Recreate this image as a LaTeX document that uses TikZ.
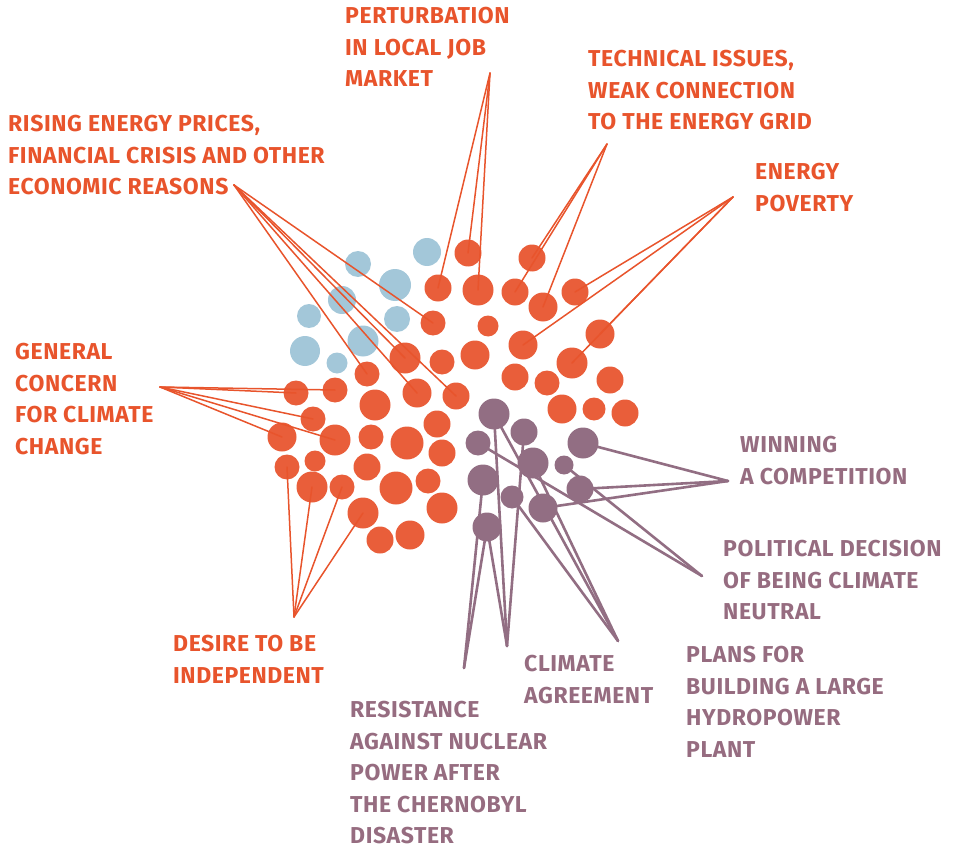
\documentclass[tikz,border=0pt]{standalone}
\usepackage{fontspec}
\setmainfont{Fira Sans}[LetterSpace=2.5]
\definecolor{otext}{RGB}{232,84,44}
\definecolor{ofill}{RGB}{233,94,58}
\definecolor{bfill}{RGB}{163,199,217}
\definecolor{pfill}{RGB}{146,110,131}
\definecolor{ptext}{RGB}{150,108,128}
\begin{document}
\begin{tikzpicture}[x=1pt,y=-1pt,
  lbl/.style={anchor=north west, inner sep=0pt, align=left, font=\bfseries\fontsize{23}{31.5}\selectfont},
  olbl/.style={lbl, text=otext},
  plbl/.style={lbl, text=ptext},
  odot/.style={circle, fill=ofill, draw=none, inner sep=0pt, minimum size=#1},
  bdot/.style={circle, fill=bfill, draw=none, inner sep=0pt, minimum size=#1},
  pdot/.style={circle, fill=pfill, draw=none, inner sep=0pt, minimum size=#1},
  oline/.style={draw=otext, line width=1.5pt, line cap=round},
  pline/.style={draw=pfill, line width=2.6pt, line cap=round}]
\useasboundingbox (0,0) rectangle (953,853);
% blue dots
\node[bdot=28pt] (b1) at (427,252) {};
\node[bdot=26pt] (b2) at (358,264) {};
\node[bdot=32pt] (b3) at (395,285) {};
\node[bdot=28pt] (b4) at (342,300) {};
\node[bdot=24pt] (b5) at (309,316) {};
\node[bdot=26pt] (b6) at (397,319) {};
\node[bdot=31pt] (b7) at (363,341) {};
\node[bdot=30pt] (b8) at (305,351) {};
\node[bdot=21pt] (b9) at (337,363) {};
% orange dots
\node[odot=27pt] (o1) at (468,253) {};
\node[odot=27pt] (o2) at (532,258) {};
\node[odot=27pt] (o3) at (438,288) {};
\node[odot=31pt] (o4) at (478,290) {};
\node[odot=27pt] (o5) at (515,292) {};
\node[odot=27pt] (o6) at (575,292) {};
\node[odot=29pt] (o7) at (543,307) {};
\node[odot=25pt] (o8) at (433,323) {};
\node[odot=21pt] (o9) at (488,326) {};
\node[odot=29pt] (o10) at (600,334) {};
\node[odot=29pt] (o11) at (523,345) {};
\node[odot=31pt] (o12) at (405,358) {};
\node[odot=25pt] (o13) at (442,362) {};
\node[odot=29pt] (o14) at (475,355) {};
\node[odot=31pt] (o15) at (572,363) {};
\node[odot=25pt] (o16) at (367,374) {};
\node[odot=27pt] (o17) at (515,377) {};
\node[odot=25pt] (o18) at (547,383) {};
\node[odot=27pt] (o19) at (610,380) {};
\node[odot=25pt] (o20) at (296,393) {};
\node[odot=25pt] (o21) at (335,390) {};
\node[odot=29pt] (o22) at (417,393) {};
\node[odot=27pt] (o23) at (456,396) {};
\node[odot=31pt] (o24) at (375,405) {};
\node[odot=29pt] (o25) at (562,409) {};
\node[odot=23pt] (o26) at (594,409) {};
\node[odot=27pt] (o27) at (625,413) {};
\node[odot=25pt] (o28) at (313,419) {};
\node[odot=27pt] (o29) at (437,424) {};
\node[odot=29pt] (o30) at (282,437) {};
\node[odot=31pt] (o31) at (335,440) {};
\node[odot=25pt] (o32) at (371,437) {};
\node[odot=33pt] (o33) at (407,443) {};
\node[odot=27pt] (o34) at (442,453) {};
\node[odot=25pt] (o35) at (287,467) {};
\node[odot=21pt] (o36) at (315,461) {};
\node[odot=27pt] (o37) at (367,467) {};
\node[odot=31pt] (o38) at (312,487) {};
\node[odot=25pt] (o39) at (342,487) {};
\node[odot=33pt] (o40) at (396,488) {};
\node[odot=25pt] (o41) at (428,481) {};
\node[odot=31pt] (o42) at (363,513) {};
\node[odot=31pt] (o43) at (442,508) {};
\node[odot=27pt] (o44) at (380,540) {};
\node[odot=29pt] (o45) at (410,535) {};
% purple dots
\node[pdot=31pt] (p1) at (494,414) {};
\node[pdot=27pt] (p2) at (524,432) {};
\node[pdot=25pt] (p3) at (478,443) {};
\node[pdot=31pt] (p4) at (583,443) {};
\node[pdot=31pt] (p5) at (533,463) {};
\node[pdot=19pt] (p6) at (564,465) {};
\node[pdot=31pt] (p7) at (483,480) {};
\node[pdot=27pt] (p8) at (580,489) {};
\node[pdot=23pt] (p9) at (512,497) {};
\node[pdot=29pt] (p10) at (543,508) {};
\node[pdot=29pt] (p11) at (487,527) {};
% apex points
\coordinate (a1) at (490,73);
\coordinate (a2) at (607,144);
\coordinate (a3) at (733,197);
\coordinate (a4) at (234,185);
\coordinate (a5) at (160,387);
\coordinate (a6) at (294,617);
\coordinate (a7) at (728,481);
\coordinate (a8) at (702,576);
\coordinate (a9) at (618,641);
\coordinate (a10) at (507,646);
\coordinate (a11) at (464,668);
% connectors
\foreach \d in {o3,o1,o4} \draw[oline] (a1) -- (\d.center);
\foreach \d in {o2,o5,o7} \draw[oline] (a2) -- (\d.center);
\foreach \d in {o6,o11,o10,o15} \draw[oline] (a3) -- (\d.center);
\foreach \d in {o8,o12,o16,o22,o23} \draw[oline] (a4) -- (\d.center);
\foreach \d in {o20,o21,o28,o31,o30} \draw[oline] (a5) -- (\d.center);
\foreach \d in {o35,o38,o39,o42} \draw[oline] (a6) -- (\d.center);
\foreach \d in {p4,p8,p10} \draw[pline] (a7) -- (\d.center);
\foreach \d in {p3,p6} \draw[pline] (a8) -- (\d.center);
\foreach \d in {p1,p5,p9} \draw[pline] (a9) -- (\d.center);
\foreach \d in {p1,p2,p11} \draw[pline] (a10) -- (\d.center);
\foreach \d in {p7,p11} \draw[pline] (a11) -- (\d.center);
% labels
\node[olbl] (t1) at (345,7) {PERTURBATION\\IN LOCAL JOB\\MARKET};
\node[olbl] (t2) at (588,50) {TECHNICAL ISSUES,\\WEAK CONNECTION\\TO THE ENERGY GRID};
\node[olbl] (t3) at (755,163) {ENERGY\\POVERTY};
\node[olbl] (t4) at (8,115) {RISING ENERGY PRICES,\\FINANCIAL CRISIS AND OTHER\\ECONOMIC REASONS};
\node[olbl] (t5) at (15,343) {GENERAL\\CONCERN\\FOR CLIMATE\\CHANGE};
\node[olbl] (t6) at (173,635) {DESIRE TO BE\\INDEPENDENT};
\node[plbl] (t7) at (740,436) {WINNING\\A COMPETITION};
\node[plbl] (t8) at (723,540) {POLITICAL DECISION\\OF BEING CLIMATE\\NEUTRAL};
\node[plbl] (t9) at (686,646) {PLANS FOR\\BUILDING A LARGE\\HYDROPOWER\\PLANT};
\node[plbl] (t10) at (524,655) {CLIMATE\\AGREEMENT};
\node[plbl] (t11) at (350,701) {RESISTANCE\\AGAINST NUCLEAR\\POWER AFTER\\THE CHERNOBYL\\DISASTER};
\end{tikzpicture}
\end{document}
